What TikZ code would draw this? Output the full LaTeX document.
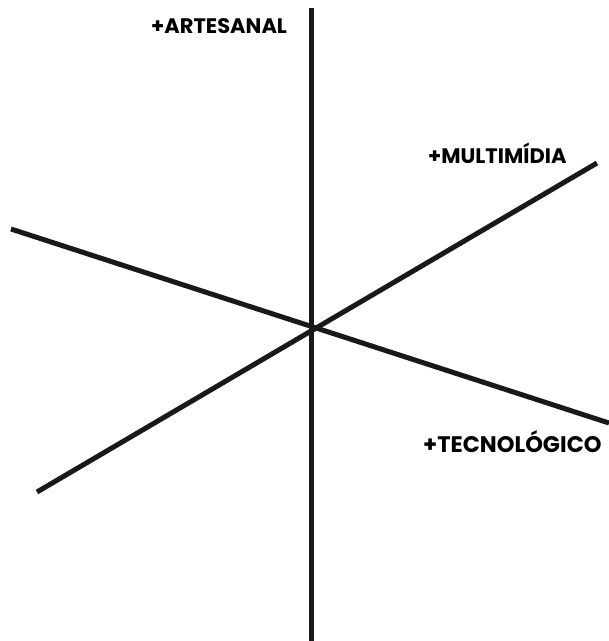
\documentclass[tikz,border=0pt]{standalone}
\usepackage{fontspec}
\setmainfont{Poppins}
\begin{document}
\begin{tikzpicture}[x=1pt,y=-1pt,
  axis/.style={line width=5pt,draw=black!90},
  lbl/.style={inner sep=0pt,font=\bfseries\fontsize{21}{24}\selectfont,anchor=west}]
\useasboundingbox (0,0) rectangle (609,641);
\coordinate (vt) at (311,8);
\coordinate (vb) at (311,641);
\coordinate (al) at (11,229);
\coordinate (ar) at (609,423);
\coordinate (bl) at (37,492);
\coordinate (br) at (597,163);
\draw[axis] (vt) -- (vb);
\draw[axis] (al) -- (ar);
\draw[axis] (bl) -- (br);
\node[lbl] (art) at (151,26) {+ARTESANAL};
\node[lbl] (mul) at (428,153) {+MULTIMÍDIA};
\node[lbl,font=\bfseries\fontsize{22.5}{26}\selectfont] (tec) at (423,442) {+TECNOLÓGICO};
\end{tikzpicture}
\end{document}
